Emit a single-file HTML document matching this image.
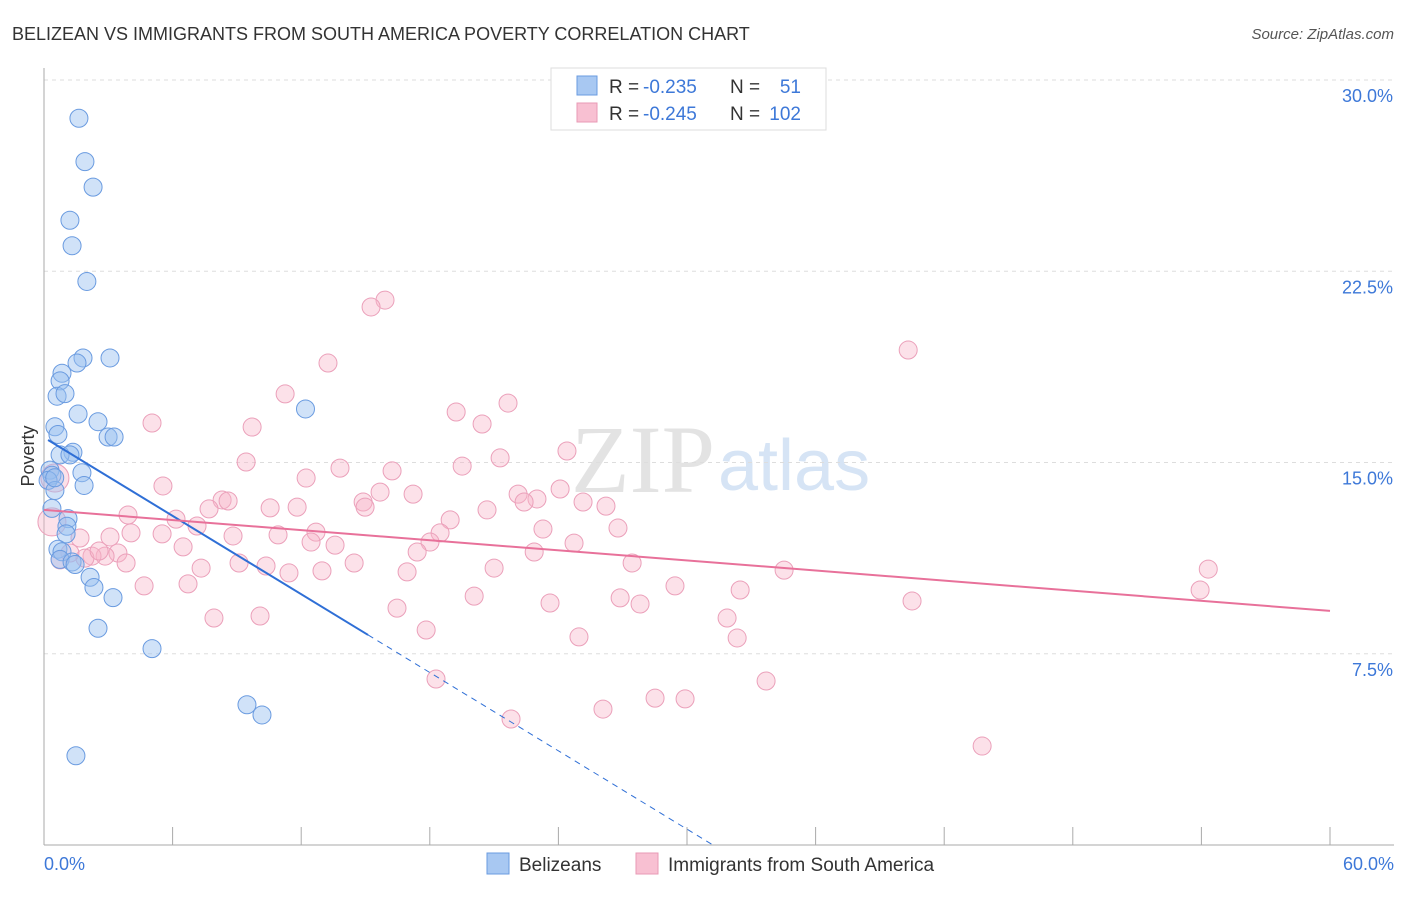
<!DOCTYPE html>
<html><head><meta charset="utf-8"><style>
body{margin:0;background:#fff;font-family:"Liberation Sans",sans-serif}
svg text{font-family:"Liberation Sans",sans-serif}
</style></head><body>
<svg id="chart" width="1406" height="892" xmlns="http://www.w3.org/2000/svg">
<text x="12" y="40" font-size="18" fill="#333">BELIZEAN VS IMMIGRANTS FROM SOUTH AMERICA POVERTY CORRELATION CHART</text>
<text x="1394" y="39" font-size="15" fill="#555" text-anchor="end" font-style="italic">Source: ZipAtlas.com</text>
<text x="715" y="492" font-size="96" fill="#e3e3e3" style="font-family:'Liberation Serif',serif" text-anchor="end">ZIP</text>
<text x="718" y="490" font-size="72" fill="#d6e4f5">atlas</text>
<g id="grid"></g><g id="axes"></g><g id="pts"></g><g id="trends"></g>
<text transform="translate(34,456) rotate(-90)" font-size="18" fill="#333" text-anchor="middle">Poverty</text>
<text x="44" y="870" font-size="18" fill="#3d78d8">0.0%</text>
<text x="1394" y="870" font-size="18" fill="#3d78d8" text-anchor="end">60.0%</text>
<g>
<rect x="551" y="68" width="275" height="62" fill="#fff" stroke="#ddd"/>
<rect x="577" y="76" width="20" height="19" fill="#a8c8f2" stroke="#6a9be0"/>
<rect x="577" y="103" width="20" height="19" fill="#f8c0d2" stroke="#e89ab5"/>
<text x="609" y="93" font-size="19" fill="#333">R =</text>
<text x="643" y="93" font-size="19" fill="#3d78d8">-0.235</text>
<text x="730" y="93" font-size="19" fill="#333">N =</text>
<text x="801" y="93" font-size="19" fill="#3d78d8" text-anchor="end">51</text>
<text x="609" y="120" font-size="19" fill="#333">R =</text>
<text x="643" y="120" font-size="19" fill="#3d78d8">-0.245</text>
<text x="730" y="120" font-size="19" fill="#333">N =</text>
<text x="801" y="120" font-size="19" fill="#3d78d8" text-anchor="end">102</text>
</g>
<g>
<rect x="487" y="853" width="22" height="21" fill="#a8c8f2" stroke="#6a9be0"/>
<text x="519" y="871" font-size="19" fill="#333">Belizeans</text>
<rect x="636" y="853" width="22" height="21" fill="#f8c0d2" stroke="#e89ab5"/>
<text x="668" y="871" font-size="19" fill="#333">Immigrants from South America</text>
</g>
</svg>
<script>
const yTicks=[7.5,15,22.5,30];
const yTickLabels=["7.5%","15.0%","22.5%","30.0%"];
const xTicks=[0,6,12,18,24,30,36,42,48,54,60];
const blueX=[1.63,1.91,2.29,1.21,1.31,2.0,1.82,3.08,1.54,0.84,0.75,0.61,0.98,1.59,2.52,12.2,0.51,0.65,2.99,3.27,1.35,0.75,1.21,0.28,0.37,0.19,1.77,1.87,0.51,0.37,1.12,1.07,1.03,0.65,0.84,0.75,1.31,1.45,2.15,2.33,3.22,2.52,5.04,9.47,10.17,1.49,0.5];
const blueY=[28.5,26.8,25.8,24.5,23.5,22.1,19.1,19.1,18.9,18.5,18.2,17.6,17.7,16.9,16.6,17.1,16.4,16.1,16.0,16.0,15.4,15.3,15.3,14.7,14.5,14.3,14.6,14.1,13.9,13.2,12.8,12.5,12.2,11.6,11.5,11.2,11.1,11.0,10.5,10.1,9.7,8.5,7.7,5.5,5.1,3.5,14.4];
const pinkX=[15.91,15.26,13.25,40.32,11.25,21.65,19.23,20.44,5.04,9.71,24.4,21.28,9.43,13.81,19.51,16.24,12.23,5.55,24.08,15.68,22.12,17.22,14.89,23.0,22.4,25.15,8.31,8.59,11.81,7.7,10.55,14.98,26.22,20.67,3.92,18.95,6.16,7.14,12.69,23.28,26.78,4.06,5.51,8.82,10.92,18.48,3.45,2.85,2.24,1.91,2.57,6.49,12.46,13.58,18.01,24.73,17.41,22.87,9.1,3.83,10.36,14.47,11.43,7.33,12.97,16.94,21.0,27.44,34.53,54.32,4.67,6.72,29.44,32.48,53.94,20.07,23.61,26.88,27.81,40.5,16.47,7.93,10.08,31.87,17.83,24.96,32.34,18.29,33.69,28.51,29.91,26.08,21.79,43.77,3.08,1.68,1.21,0.75,0.37,0.51];
const pinkY=[21.37,21.1,18.9,19.41,17.69,17.33,16.98,16.51,16.55,16.39,15.45,15.18,15.02,14.78,14.86,14.67,14.39,14.08,13.96,13.84,13.76,13.76,13.45,13.57,13.45,13.45,13.53,13.49,13.25,13.18,13.22,13.25,13.29,13.14,12.94,12.75,12.78,12.51,12.27,12.39,12.43,12.24,12.2,12.12,12.16,12.24,11.45,11.33,11.33,11.25,11.53,11.69,11.88,11.76,11.88,11.84,11.49,11.49,11.06,11.06,10.94,11.06,10.67,10.86,10.75,10.71,10.86,11.06,10.78,10.82,10.16,10.24,10.16,10.0,10.0,9.76,9.49,9.69,9.45,9.57,9.29,8.9,8.98,8.9,8.43,8.16,8.12,6.51,6.43,5.76,5.73,5.33,4.94,3.88,12.08,12.04,11.45,11.18,12.67,14.39];
const blueTrend=[15.98,-0.512];
const pinkTrend=[13.14,9.18];
const NS="http://www.w3.org/2000/svg";
const X=v=>44+v*(1286/60);
const Y=v=>845-v*25.5;
function mk(tag,parent,attrs){const e=document.createElementNS(NS,tag);for(const k in attrs)e.setAttribute(k,attrs[k]);document.getElementById(parent).appendChild(e);return e;}
yTicks.forEach((t,i)=>{
 const g=mk('line','grid',{x1:44,x2:1394,y1:Y(t),y2:Y(t),stroke:'#ddd','stroke-dasharray':'4,4'});
 
 
 const tx=mk('text','grid',{x:1393,y:Y(t)+22,'font-size':18,fill:'#3d78d8','text-anchor':'end'});
 tx.textContent=yTickLabels[i];
 
 
});
const ax=mk('line','axes',{x1:44,x2:44,y1:68,y2:845,stroke:'#aaa'});


const bx=mk('line','axes',{x1:44,x2:1394,y1:845,y2:845,stroke:'#aaa'});


xTicks.forEach(t=>{
 const l=mk('line','axes',{x1:X(t),x2:X(t),y1:827,y2:845,stroke:'#aaa'});
 
 
});
pinkX.forEach((v,i)=>{
 const big=i>=pinkX.length-2;
 const c=mk('circle','pts',{cx:X(v),cy:Y(pinkY[i]),r:big?14:9,fill:'rgba(248,180,200,0.4)',stroke:'#eba0ba','stroke-width':1});
 
 
});
blueX.forEach((v,i)=>{
 const c=mk('circle','pts',{cx:X(v),cy:Y(blueY[i]),r:9,fill:'rgba(150,190,240,0.45)',stroke:'#6a9be0','stroke-width':1});
 
 
});
const bx0=0.19,bx1=15.12,bx2=31.3;
const b1=mk('line','trends',{x1:X(bx0),y1:Y(blueTrend[0]+blueTrend[1]*bx0),x2:X(bx1),y2:Y(blueTrend[0]+blueTrend[1]*bx1),stroke:'#2f6fd6','stroke-width':2});


const b2=mk('line','trends',{x1:X(bx1),y1:Y(blueTrend[0]+blueTrend[1]*bx1),x2:X(bx2),y2:Y(blueTrend[0]+blueTrend[1]*bx2),stroke:'#2f6fd6','stroke-width':1,'stroke-dasharray':'6,5'});


const p1=mk('line','trends',{x1:X(0),y1:Y(pinkTrend[0]),x2:X(60),y2:Y(pinkTrend[1]),stroke:'#e8719a','stroke-width':2});


</script>
</body></html>
